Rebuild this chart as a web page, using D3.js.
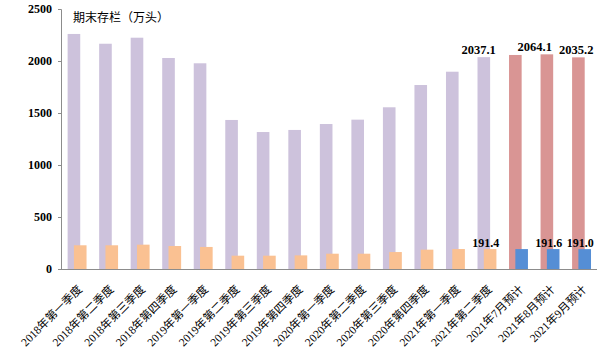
<!DOCTYPE html>
<html>
<head>
<meta charset="utf-8">
<script src="https://cdn.jsdelivr.net/npm/d3@7"></script>
<style>
  body { margin: 0; background: #fff; }
  svg text { font-family: "Liberation Serif", "Noto Sans CJK SC", serif; fill: #000; }
</style>
</head>
<body>
<div id="chart"></div>
<script>
var width = 600;
var height = 354;

// categories (quarters + monthly forecasts)
var categories = ["2018年第一季度", "2018年第二季度", "2018年第三季度", "2018年第四季度",
  "2019年第一季度", "2019年第二季度", "2019年第三季度", "2019年第四季度",
  "2020年第一季度", "2020年第二季度", "2020年第三季度", "2020年第四季度",
  "2021年第一季度", "2021年第二季度", "2021年7月预计", "2021年8月预计", "2021年9月预计"];

// 期末存栏 (万头)
var stockValues = [2260, 2166, 2224, 2029, 1978, 1433, 1317, 1337, 1394, 1436, 1555, 1769, 1897, 2037.1, 2058, 2064.1, 2035.2];
// second series (small bars)
var smallValues = [228, 228, 234, 221, 212, 128, 128, 131, 147, 147, 163, 186, 192, 191.4, 191.5, 191.6, 191.0];

var yTicks = [0, 500, 1000, 1500, 2000, 2500];

// which bars get value labels
var stockLabels = { 13: "2037.1", 15: "2064.1", 16: "2035.2" };
var smallLabels = { 13: "191.4", 15: "191.6", 16: "191.0" };

var svg = d3.select("#chart").append("svg")
    .attr("width", width)
    .attr("height", height);

var x = d3.scaleBand()
    .domain(categories)
    .range([61, 597]);

var y = d3.scaleLinear()
    .domain([0, 2500])
    .range([269, 9]);

var bw = x.bandwidth();
var barW = bw * 0.4;

function isForecast(c) { return c.indexOf("预计") >= 0; }

// big bars
svg.append("g").selectAll("rect")
    .data(categories)
    .enter().append("rect")
    .attr("x", function(d) { return x(d) + bw * 0.21; })
    .attr("y", function(d, i) { return y(stockValues[i]); })
    .attr("width", barW)
    .attr("height", function(d, i) { return y(0) - y(stockValues[i]); })
    .attr("fill", function(d) { return isForecast(d) ? "#d99594" : "#cdc2dc"; });

// small bars, overlapping to the right
svg.append("g").selectAll("rect")
    .data(categories)
    .enter().append("rect")
    .attr("x", function(d) { return x(d) + bw * 0.41; })
    .attr("y", function(d, i) { return y(smallValues[i]); })
    .attr("width", barW)
    .attr("height", function(d, i) { return y(0) - y(smallValues[i]); })
    .attr("fill", function(d) { return isForecast(d) ? "#558ed5" : "#fac192"; });

// y axis
var yAxis = svg.append("g")
    .attr("transform", "translate(61,0)")
    .call(d3.axisLeft(y).tickValues(yTicks).tickSize(3).tickPadding(6).tickFormat(d3.format("d")));
yAxis.selectAll("path, line").attr("stroke", "#8c8c8c");
yAxis.selectAll("text")
    .attr("font-size", 12)
    .attr("font-weight", "bold")
    .attr("font-family", "Liberation Serif, serif");

// x axis
var xAxis = svg.append("g")
    .attr("transform", "translate(0,269)")
    .call(d3.axisBottom(x).tickSize(0).tickFormat(""));
xAxis.select("path").attr("stroke", "#8c8c8c").attr("d", "M58,0.5H597");

svg.append("g").selectAll("text")
    .data(categories)
    .enter().append("text")
    .attr("transform", function(d) {
        return "translate(" + (x(d) + bw / 2 + 6) + ",290) rotate(-45)";
    })
    .attr("text-anchor", "end")
    .attr("font-size", 11.5)
    .text(function(d) { return d; });

// title
svg.append("text")
    .attr("x", 73)
    .attr("y", 22)
    .attr("font-size", 12)
    .attr("font-family", "Noto Sans CJK SC, sans-serif")
    .text("期末存栏（万头）");

// value labels
var stockDx = { 13: -8, 15: -15, 16: -5 };
svg.append("g").selectAll("text")
    .data(Object.keys(stockLabels))
    .enter().append("text")
    .attr("x", function(k) { return x(categories[k]) + bw / 2 + stockDx[k]; })
    .attr("y", function(k) { return y(stockValues[k]) - 3; })
    .attr("text-anchor", "middle")
    .attr("font-size", 12.5)
    .attr("font-weight", "bold")
    .text(function(k) { return stockLabels[k]; });

svg.append("g").selectAll("text")
    .data(Object.keys(smallLabels))
    .enter().append("text")
    .attr("x", function(k) { return x(categories[k]) + bw / 2 - 1; })
    .attr("y", function(k) { return y(smallValues[k]) - 2; })
    .attr("text-anchor", "middle")
    .attr("font-size", 12)
    .attr("font-weight", "bold")
    .text(function(k) { return smallLabels[k]; });
</script>
</body>
</html>
